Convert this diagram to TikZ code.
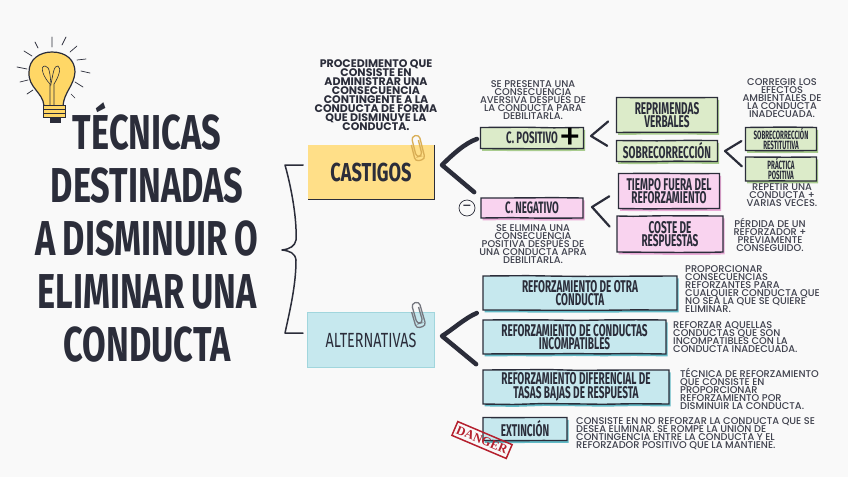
\documentclass[tikz,border=0pt]{standalone}
\usepackage{fontspec}
\usetikzlibrary{arrows.meta,positioning,shadows,decorations.pathmorphing}
\setmainfont{Poppins Medium}
\newfontfamily\boldtextfont{Poppins}
\newfontfamily\handfont[FakeStretch=0.7,WordSpace=0.85]{Fira Sans}
\newfontfamily\boxfont[FakeStretch=0.59]{Fira Sans}
\newfontfamily\tinyboxfont[FakeStretch=0.52]{Fira Sans}
\newfontfamily\stampfont{Liberation Serif}
\definecolor{inkdark}{HTML}{2B2D3A}
\definecolor{paperbg}{HTML}{F9F9F9}
\definecolor{noteyellow}{HTML}{FFDF88}
\definecolor{noteblue}{HTML}{C6E8EE}
\definecolor{boxgreen}{HTML}{DCEBC9}
\definecolor{boxpink}{HTML}{F9D3EF}
\definecolor{boxteal}{HTML}{C6E8EE}
\definecolor{shadegreen}{HTML}{A9CC8E}
\definecolor{shadepink}{HTML}{E8AAD6}
\definecolor{shadeteal}{HTML}{62BAC6}
\definecolor{clipgold}{HTML}{D9AE55}
\definecolor{stampred}{HTML}{B5202E}
\definecolor{bulbyellow}{HTML}{FFD766}
\newcommand{\tightlines}{\lineskiplimit-20pt\relax}
\begin{document}
\begin{tikzpicture}[
    x=1pt,y=-1pt,
    sketch box/.style 2 args={
        rectangle,
        draw=inkdark,
        line width=1.4pt,
        fill=#1,
        inner sep=0pt,
        align=center,
        text=inkdark,
        font=\boxfont\bfseries\fontsize{17}{13.5}\selectfont\tightlines,
        general shadow={fill=#2,draw=none,shadow xshift=1.6pt,shadow yshift=-2.4pt},
        decorate,
        decoration={random steps,segment length=30pt,amplitude=0.5pt}
    },
    note box/.style={
        rectangle,
        fill=#1,
        inner sep=0pt,
        text=inkdark,
        align=center
    },
    desc text/.style={
        inner sep=0pt,
        text=inkdark!90,
        font=\fontsize{9.8}{8}\selectfont\tightlines,
        align=#1
    },
    branch line/.style={
        draw=inkdark,
        line width=#1,
        line cap=round,
        line join=round
    },
    paper clip/.pic={
        \draw[#1,line width=1.3pt,rounded corners=3.5pt]
            (3,6) -- (3,22) -- (-3,22) -- (-3,1) -- (5,1) -- (5,26) -- (-5,26) -- (-5,9);
    }
]

% Background
\path[use as bounding box,fill=paperbg] (0,0) rectangle (848,477);

% Light bulb
\path[fill=bulbyellow,draw=inkdark,line width=1.2pt]
    (44,106) .. controls (43,92) and (28,88) .. (29,72)
    .. controls (29,59) and (40,52) .. (52,52)
    .. controls (66,52) and (75,60) .. (75,72)
    .. controls (74,86) and (64,92) .. (63,106) -- cycle;
\draw[inkdark,line width=0.6pt]
    (50,105) -- (50,84) .. controls (44,78) and (39,66) .. (45,66)
    .. controls (50,66) and (50,76) .. (51,84)
    .. controls (53,74) and (54,65) .. (58,66)
    .. controls (62,68) and (58,78) .. (54,84) -- (54,105);
\path[fill=bulbyellow,draw=inkdark,line width=1pt] (43,105) rectangle (65,117);
\draw[inkdark,line width=0.7pt] (43,109) -- (65,109) (43,113) -- (65,113);
\path[fill=inkdark] (50,117) rectangle (61,123);
\draw[inkdark,line width=0.7pt,line cap=round]
    (52,37) -- (52,47) (62,45) -- (66,37) (70,52) -- (77,46)
    (77,60) -- (86,59) (81,71) -- (90,73) (75,82) -- (83,87)
    (71,94) -- (75,98) (38,48) -- (35,42) (32,56) -- (24,51)
    (27,69) -- (17,67) (28,80) -- (20,82) (33,90) -- (27,94);

% Title
\node[inner sep=0pt,align=center,text=inkdark,
      font=\handfont\bfseries\fontsize{49}{53}\selectfont] (title) at (147,232)
    {TÉCNICAS\\DESTINADAS\\A DISMINUIR O\\ELIMINAR UNA\\CONDUCTA};

% Main notes
\node[note box=noteyellow,minimum width=126pt,minimum height=54pt,
      font=\handfont\bfseries\fontsize{26}{28}\selectfont] (castigos) at (371,172) {CASTIGOS};
\draw[inkdark,line width=0.9pt] (castigos.north east) -- (castigos.south east) -- (castigos.south west);
\node[note box=noteblue,draw=shadeteal!60,line width=0.6pt,minimum width=127pt,minimum height=55pt,
      font=\handfont\fontsize{20.5}{24}\selectfont] (alternativas) at (371,340) {ALTERNATIVAS};

% Paper clips
\pic[rotate=14] at (414,135) {paper clip={clipgold}};
\pic[rotate=16] at (414,302) {paper clip={inkdark!65}};

% Main brace
\coordinate (brace top) at (303,165);
\coordinate (brace tip) at (282,250);
\coordinate (brace bottom) at (303,333);
\draw[branch line=1.5pt] (brace top) -- (285,165) .. controls (292,190) and (297,220) .. (296,240)
    .. controls (295,246) and (290,249) .. (brace tip)
    .. controls (290,251) and (295,253) .. (296,260)
    .. controls (296,285) and (290,310) .. (285,333) -- (brace bottom);

% Castigos branch
\node[desc text=center,font=\boldtextfont\bfseries\fontsize{11}{8.9}\selectfont\tightlines,text=inkdark] (castigos text) at (376,95)
    {PROCEDIMENTO QUE\\CONSISTE EN\\ADMINISTRAR UNA\\CONSECUENCIA\\CONTINGENTE A LA\\CONDUCTA DE FORMA\\QUE DISMINUYE LA\\CONDUCTA.};
\node[sketch box={boxgreen}{shadegreen},minimum width=103pt,minimum height=21pt,
      font=\boxfont\bfseries\fontsize{16.5}{15}\selectfont] (cpositivo) at (532,138) {C. POSITIVO};
\node[inner sep=0pt,text=black,font=\fontsize{33}{33}\selectfont] (cplus) at (570,138) {+};
\node[sketch box={boxpink}{shadepink},minimum width=102pt,minimum height=20pt,
      font=\boxfont\bfseries\fontsize{16.5}{15}\selectfont] (cnegativo) at (532,208) {C. NEGATIVO};
\node[circle,draw=inkdark,line width=0.7pt,inner sep=0pt,minimum size=16pt,text=inkdark,
      font=\fontsize{13}{13}\selectfont] (cminus) at (467,208) {–};
\coordinate (castigos tip) at (442,165);
\draw[branch line=4.5pt,shorten <=3pt,shorten >=8pt] (cpositivo.west) .. controls (465,143) and (452,155) .. (castigos tip) -- (cnegativo.north west);

\node[desc text=center] (cpositivo text) at (533,100)
    {SE PRESENTA UNA\\CONSECUENCIA\\AVERSIVA DESPUÉS DE\\LA CONDUCTA PARA\\DEBILITARLA.};
\node[desc text=center] (cnegativo text) at (533,244)
    {SE ELIMINA UNA\\CONSECUENCIA\\POSITIVA DESPUÉS DE\\UNA CONDUCTA APRA\\DEBILITARLA.};

% Positive and negative boxes
\node[sketch box={boxgreen}{shadegreen},minimum width=101pt,minimum height=35pt] (reprimendas) at (667,115) {REPRIMENDAS\\VERBALES};
\node[sketch box={boxgreen}{shadegreen},minimum width=101pt,minimum height=21pt] (sobrecorreccion) at (667,151) {SOBRECORRECCIÓN};
\node[sketch box={boxpink}{shadepink},minimum width=101pt,minimum height=35pt] (tiempo) at (669,191) {TIEMPO FUERA DEL\\REFORZAMIENTO};
\node[sketch box={boxpink}{shadepink},minimum width=106pt,minimum height=36pt] (coste) at (670,234) {COSTE DE\\RESPUESTAS};
\coordinate (cpositivo tip) at (591,136);
\coordinate (cnegativo tip) at (592,207);
\draw[branch line=2.2pt,shorten <=10pt,shorten >=10pt] (reprimendas.west) -- (cpositivo tip) -- (sobrecorreccion.west);
\draw[branch line=2.2pt,shorten <=10pt,shorten >=10pt] (tiempo.west) -- (cnegativo tip) -- (coste.west);

% Overcorrection boxes
\node[sketch box={boxgreen}{shadegreen},minimum width=71pt,minimum height=23pt,
      font=\tinyboxfont\bfseries\fontsize{12}{10.5}\selectfont\tightlines] (restitutiva) at (781,139) {SOBRECORRECCIÓN\\RESTITUTIVA};
\node[sketch box={boxgreen}{shadegreen},minimum width=71pt,minimum height=24pt,
      font=\tinyboxfont\bfseries\fontsize{12}{10.5}\selectfont\tightlines] (practica) at (781,169) {PRÁCTICA\\POSITIVA};
\coordinate (sobre tip) at (725,151);
\draw[branch line=2.2pt,shorten <=4pt,shorten >=4pt] (restitutiva.west) -- (sobre tip) -- (practica.west);
\node[desc text=center] (corregir text) at (782,98)
    {CORREGIR LOS\\EFECTOS\\AMBIENTALES DE\\LA CONDUCTA\\INADECUADA.};
\node[desc text=center] (repetir text) at (782,195)
    {REPETIR UNA\\CONDUCTA +\\VARIAS VECES.};
\node[desc text=center] (perdida text) at (770,235)
    {PÉRDIDA DE UN\\REFORZADOR +\\PREVIAMENTE\\CONSEGUIDO.};

% Alternativas branch
\node[sketch box={boxteal}{shadeteal},minimum width=194pt,minimum height=34pt] (otra) at (580,293) {REFORZAMIENTO DE OTRA\\CONDUCTA};
\node[sketch box={boxteal}{shadeteal},minimum width=183pt,minimum height=34pt] (incompatibles) at (574.5,337) {REFORZAMIENTO DE CONDUCTAS\\INCOMPATIBLES};
\node[sketch box={boxteal}{shadeteal},minimum width=186pt,minimum height=34pt] (diferencial) at (576,387) {REFORZAMIENTO DIFERENCIAL DE\\TASAS BAJAS DE RESPUESTA};
\node[sketch box={boxteal}{shadeteal},minimum width=84pt,minimum height=23pt] (extincion) at (525,429) {EXTINCIÓN};
\coordinate (alternativas tip) at (442,336);
\draw[branch line=4.5pt,shorten <=6pt,shorten >=8pt] (otra.south west) .. controls (465,318) and (452,330) .. (alternativas tip) -- (diferencial.north west);

\node[desc text=left,anchor=north west] (otra text) at (685,265)
    {PROPORCIONAR\\CONSECUENCIAS\\REFORZANTES PARA\\CUALQUIER CONDUCTA QUE\\NO SEA LA QUE SE QUIERE\\ELIMINAR.};
\node[desc text=left,anchor=north west] (incompatibles text) at (673,321)
    {REFORZAR AQUELLAS\\CONDUCTAS QUE SON\\INCOMPATIBLES CON LA\\CONDUCTA INADECUADA.};
\node[desc text=left,anchor=north west] (diferencial text) at (680,368)
    {TÉCNICA DE REFORZAMIENTO\\QUE CONSISTE EN\\PROPORCIONAR\\REFORZAMIENTO POR\\DISMINUIR LA CONDUCTA.};
\node[desc text=left,anchor=north west] (extincion text) at (576,417)
    {CONSISTE EN NO REFORZAR LA CONDUCTA QUE SE\\DESEA ELIMINAR. SE ROMPE LA UNIÓN DE\\CONTINGENCIA ENTRE LA CONDUCTA Y EL\\REFORZADOR POSITIVO QUE LA MANTIENE.};

% Danger stamp
\node[rectangle,draw=stampred,line width=1.5pt,rotate=-23,minimum width=59pt,minimum height=15pt,inner sep=0pt,
      text=stampred,font=\stampfont\bfseries\fontsize{12.5}{12.5}\selectfont] (danger) at (482,440) {DANGER};

\end{tikzpicture}
\end{document}
